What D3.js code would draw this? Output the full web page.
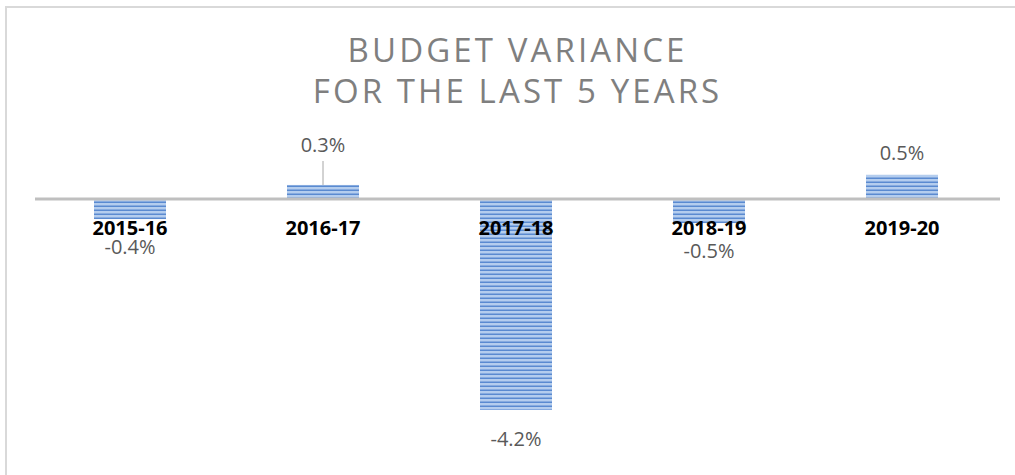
<!DOCTYPE html>
<html><head><meta charset="utf-8">
<script src="https://cdn.jsdelivr.net/npm/d3@7"></script>
<style>html,body{margin:0;padding:0;background:#fff;}svg{display:block;}</style>
</head><body>
<svg id="chart" width="1015" height="475"></svg>
<script>
const categories = ["2015-16","2016-17","2017-18","2018-19","2019-20"];
const variance = [-0.4, 0.28, -4.2, -0.48, 0.48];
const titleLines = ["BUDGET VARIANCE","FOR THE LAST 5 YEARS"];

const svg = d3.select("#chart");
const W = 1015, H = 475;

// outer border
svg.append("rect").attr("x",6).attr("y",7).attr("width",W+10).attr("height",H+10)
  .attr("fill","#fff").attr("stroke","#d9d9d9").attr("stroke-width",2);

// pattern
const defs = svg.append("defs");
const pat = defs.append("pattern").attr("id","stripes").attr("patternUnits","userSpaceOnUse")
  .attr("width",8).attr("height",4).attr("y",0);
pat.append("rect").attr("width",8).attr("height",4).attr("fill","#b4cdee");
pat.append("rect").attr("y",1.5).attr("width",8).attr("height",1.5).attr("fill","#5a8ad0");

const x = d3.scaleBand().domain(categories).range([33.5,998.5]).paddingInner(0.627).paddingOuter(0.3135);
const y = d3.scaleLinear().domain([-4.2,0]).range([410,199]);

// title
const ls = 3.1;
svg.append("g").selectAll("text").data(titleLines).join("text")
  .attr("x",516 + ls/2).attr("y",(d,i)=>62+i*41).attr("text-anchor","middle")
  .attr("font-family","'Open Sans', sans-serif").attr("font-size",33)
  .attr("letter-spacing",ls).attr("fill","#7f7f7f").text(d=>d);

// bars
svg.append("g").selectAll("rect").data(variance).join("rect")
  .attr("x",(d,i)=>x(categories[i])).attr("width",x.bandwidth())
  .attr("y",d=>y(Math.max(0,d))).attr("height",d=>Math.abs(y(d)-y(0)))
  .attr("fill","url(#stripes)");

// axis line
svg.append("line").attr("x1",35).attr("x2",1000).attr("y1",y(0)).attr("y2",y(0))
  .attr("stroke","#bfbfbf").attr("stroke-width",3);

// category labels
svg.append("g").selectAll("text").data(categories).join("text")
  .attr("x",d=>x(d)+x.bandwidth()/2).attr("y",235).attr("text-anchor","middle")
  .attr("font-family","'Open Sans', sans-serif").attr("font-weight","bold").attr("font-size",20)
  .attr("fill","#000").text(d=>d);

// value labels
const fmt = v => v.toFixed(1)+"%";
const labelY = (d,i) => {
  if (d < 0) return y(d) + (i===2 ? 36 : 35);
  if (i===1) return 152;
  return y(d) - 15;
};
// leader line for 2016-17
svg.append("line").attr("x1",x(categories[1])+x.bandwidth()/2).attr("x2",x(categories[1])+x.bandwidth()/2)
  .attr("y1",161).attr("y2",y(variance[1])).attr("stroke","#a6a6a6").attr("stroke-width",1);

svg.append("g").selectAll("text").data(variance).join("text")
  .attr("x",(d,i)=>x(categories[i])+x.bandwidth()/2).attr("y",labelY).attr("text-anchor","middle")
  .attr("font-family","'Open Sans', sans-serif").attr("font-size",20)
  .attr("fill","#595959").text(fmt);
</script>
</body></html>
